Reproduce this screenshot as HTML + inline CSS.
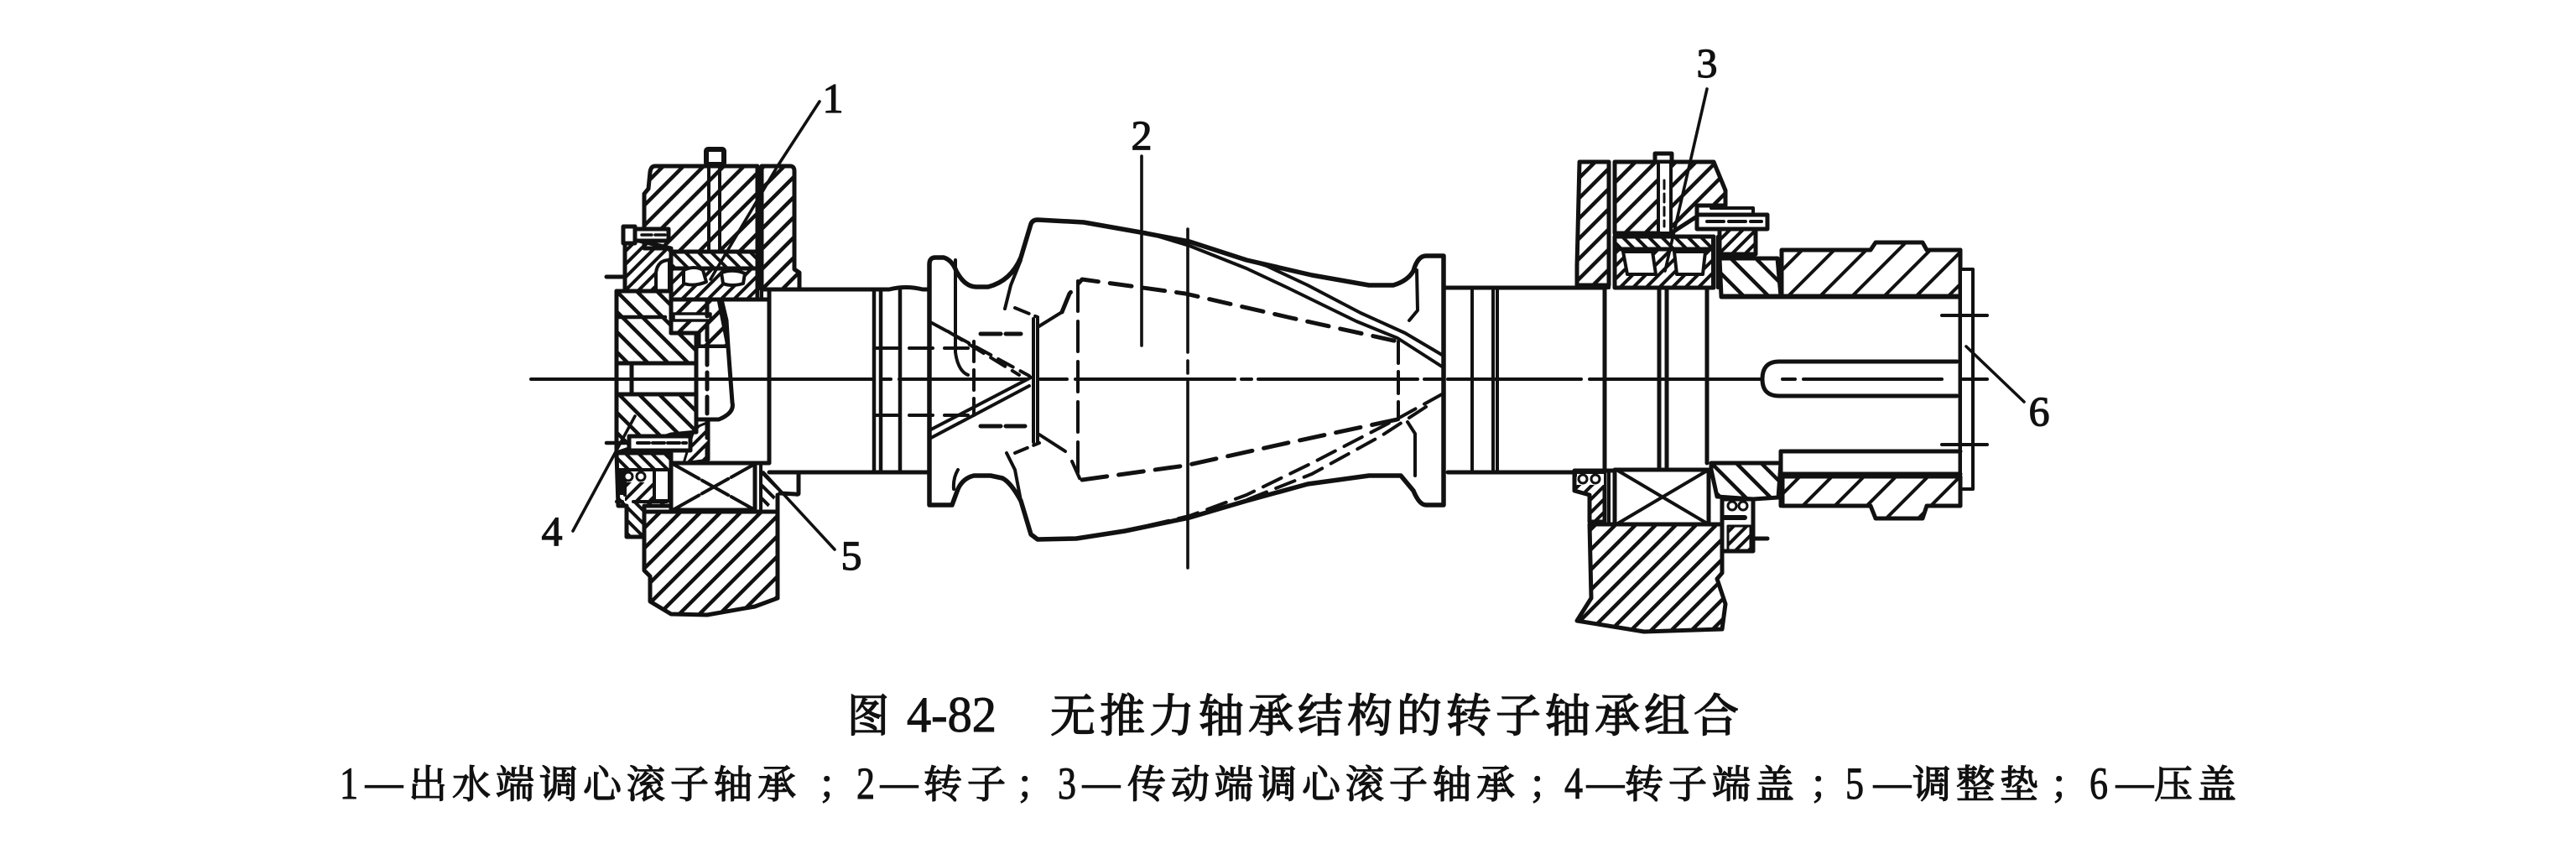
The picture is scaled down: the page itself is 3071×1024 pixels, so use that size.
<!DOCTYPE html>
<html><head><meta charset="utf-8"><style>
html,body{margin:0;padding:0;background:#fff;width:3071px;height:1024px;overflow:hidden}
svg{display:block}
text{fill:#111;stroke:#111}
.l{font-family:"Liberation Serif",serif;font-size:60px;stroke-width:1}
.c{font-family:"Noto Serif CJK SC","Liberation Serif",serif;font-size:54px;letter-spacing:5px;stroke-width:1.5}
.d{font-family:"Noto Serif CJK SC","Liberation Serif",serif;font-size:46px;letter-spacing:6px;stroke-width:1.4}
.g{font-family:"Liberation Serif",serif;font-size:54px;stroke-width:1}
.m{font-family:"Noto Serif CJK SC","Liberation Serif",serif;font-size:46px;stroke-width:1.2}
.n{font-family:"Liberation Serif",serif;font-size:50px;text-anchor:middle;stroke-width:1.2}
</style></head><body>
<svg width="3071" height="1024" viewBox="0 0 3071 1024" xmlns="http://www.w3.org/2000/svg">
<defs>
<pattern id="r" width="17" height="17" patternUnits="userSpaceOnUse" patternTransform="rotate(45)"><rect width="4.5" height="17" fill="#111"/></pattern>
<pattern id="l" width="17" height="17" patternUnits="userSpaceOnUse" patternTransform="rotate(-45)"><rect width="4.5" height="17" fill="#111"/></pattern>
<pattern id="rc" width="27" height="27" patternUnits="userSpaceOnUse" patternTransform="rotate(45)"><rect width="4" height="27" fill="#111"/></pattern>
<pattern id="lc" width="21" height="21" patternUnits="userSpaceOnUse" patternTransform="rotate(-45)"><rect width="4.5" height="21" fill="#111"/></pattern>
<pattern id="r2" width="11" height="11" patternUnits="userSpaceOnUse" patternTransform="rotate(45)"><rect width="4" height="11" fill="#111"/></pattern>
<pattern id="l2" width="11" height="11" patternUnits="userSpaceOnUse" patternTransform="rotate(-45)"><rect width="4" height="11" fill="#111"/></pattern>
</defs>
<rect width="3071" height="1024" fill="#fff"/>

<g stroke="#111" stroke-width="5" stroke-linejoin="round" stroke-linecap="round" fill="none">
<!-- LEFT ASSEMBLY upper -->
<path fill="url(#r)" d="M781,198H903V300H800L797,296H768V231L773,225 775,205Q776,198 781,198Z"/>
<path fill="url(#r)" d="M908,198H942Q947,198 947,204V321L953,325V345H908Z"/>
<path d="M903,198V357M908,198V357" stroke-width="4"/>
<path fill="url(#r2)" d="M745,283L800,296V347H745Z"/>
<path fill="#fff" stroke-width="4" d="M782,347V325Q784,310 798,310V347Z"/>
<path d="M723,330H742" stroke-width="5"/>
<path fill="url(#l2)" d="M800,300H903V320H800Z"/>
<path fill="url(#r2)" d="M800,320H903V357H800Z"/>
<path fill="#fff" stroke-width="4" d="M815,322Q828,316 838,322L842,336Q828,342 815,338ZM860,325Q875,320 888,326L886,338Q872,342 862,338Z"/>
<path fill="url(#r)" d="M800,357H860L866,382 868,413H833V397H800Z"/>
<path fill="#fff" stroke-width="3.5" d="M803,374H847V382H803Z"/>
<rect x="842" y="178" width="21" height="18" fill="#fff" rx="2" stroke-width="6"/>
<path d="M845,198V300M858,198V300" stroke-width="4"/>
<path fill="#fff" stroke-width="5" d="M743,270H757V290H743ZM757,273H797V287H757Z"/>
<path d="M765,280H795" stroke-width="3.5" stroke-dasharray="12 4"/>

<!-- end cover -->
<path fill="url(#l)" d="M735,347H800V397H830V515L800,518 735,540Z"/>
<path fill="#fff" stroke="none" d="M735,433H830V470H735Z"/>
<path d="M735,433H830M735,470H830M753,433V470M735,347V540M830,397V515M800,347V397H830"/>
<path d="M735,378H793" stroke-width="4.5"/>
<!-- curved inner -->
<path fill="#fff" stroke="none" d="M833,413H868L873,480Q876,492 857,500H833Z"/>
<path d="M857,357L868,413 873,480Q876,492 857,500H833"/>
<path d="M833,413H868" stroke-width="4"/>
<path d="M843,357V552" stroke-dasharray="20 9" stroke-width="5"/>
<path fill="url(#r2)" stroke-width="3" d="M828,510L845,503V548L815,552Z"/>
<!-- bolt band -->
<path fill="#fff" stroke-width="5" d="M750,520H823V537H750Z"/>
<path d="M760,528H818" stroke-dasharray="14 4" stroke-width="4"/>
<path d="M723,528H745" stroke-width="4.5"/>
<!-- lower seal -->
<path fill="url(#l2)" d="M735,540H800V603H768V640H747V603H737Z"/>
<path fill="#fff" stroke="none" d="M745,560H797V600H745Z"/>
<path fill="url(#r2)" stroke="none" d="M745,575H780V597H745Z"/>
<path d="M737,560H800M737,560V590M745,560V590" stroke-width="4"/>
<path fill="#111" stroke="none" d="M737,560H745V590H737Z"/>
<circle cx="749" cy="568" r="5" fill="#fff" stroke-width="3"/><circle cx="764" cy="568" r="5" fill="#fff" stroke-width="3"/>
<path fill="#fff" stroke-width="4" d="M780,560H798V597H780Z"/>
<path d="M735,598H742M755,598H795" stroke-width="4"/>
<!-- lower bearing -->
<path fill="#fff" d="M800,552H900V608H800Z"/>
<path d="M802,553L900,608M802,608L900,553" stroke-width="4" stroke-dasharray="36 4"/>
<path d="M900,552V608M907,552V608" stroke-width="4"/>
<path fill="url(#l2)" stroke="none" d="M907,562H920L930,585 915,605 907,606Z"/>
<path d="M917,563H1108M952,563V588Q952,590 948,589L930,588" stroke-width="5"/>
<!-- lower housing -->
<path fill="url(#r)" d="M768,610H927V713L900,723 843,733 800,732 775,717V687L768,680Z"/>
<path d="M927,590V713"/>
<!-- shaft inside bore -->
<path d="M917,345V552H847M853,357H917" />

<!-- SHAFT LEFT -->
<path d="M917,345H1060Q1080,340 1100,345H1108" />
<path d="M1042,345V563M1050,345V563M1073,345V563" stroke-width="4.5"/>
<path d="M1042,415H1157M1042,495H1157" stroke-dasharray="28 14" stroke-width="4"/>

<!-- ROTOR -->
<path stroke-width="5.5" d="M1108,315Q1108,307 1115,307H1125Q1135,310 1140,323 1150,342 1164,342H1178Q1205,335 1217,307L1229,267Q1231,262 1237,262L1292,265 1360,277 1418,288 1486,310 1564,328 1632,340H1661Q1678,335 1685,323 1690,305 1700,305H1721V602H1700Q1692,602 1685,585L1670,567H1632L1559,577 1486,597 1418,617 1341,633 1283,642 1237,643 1229,637 1217,597Q1205,575 1195,570L1181,567H1161Q1148,570 1142,583L1135,602H1108Z"/>
<path d="M1365,277L1418,293 1486,320 1535,343 1617,383 1666,403 1719,437M1418,288L1510,317 1559,340 1622,373 1675,397 1719,423" stroke-width="4"/>
<path d="M1139,310V420Q1142,442 1154,447M1142,560Q1136,570 1137,583M1217,310L1205,340 1198,368M1200,540L1210,560 1217,597" stroke-width="4"/>
<path d="M1232,380V527M1237,380V527" stroke-width="4"/>
<path d="M1210,367L1237,378" stroke-dasharray="18 8" stroke-width="4"/>
<path d="M1237,390L1266,372" stroke-width="4"/>
<path d="M1266,372L1275,350 1290,333 1413,350 1535,378 1666,407" stroke-dasharray="26 14" stroke-width="5"/>
<path d="M1285,335V572" stroke-dasharray="36 12" stroke-width="4"/>
<path d="M1290,572L1413,555 1535,528 1666,500" stroke-dasharray="30 14" stroke-width="5"/>
<path d="M1239,518L1270,538M1278,550L1287,570" stroke-width="4"/>
<path d="M1210,540L1239,528" stroke-dasharray="16 8" stroke-width="4"/>
<path d="M1667,407V500" stroke-dasharray="26 10" stroke-width="4"/>
<path d="M1680,382L1690,370 1689,322M1678,503L1687,517V567" stroke-width="4"/>
<path d="M1719,470L1670,497 1564,552 1486,590 1418,615 1341,633" stroke-dasharray="24 12" stroke-width="4"/>
<path d="M1700,485L1646,520 1564,565 1476,600" stroke-dasharray="24 12" stroke-width="4"/>
<path d="M1108,513L1229,450M1108,523L1227,460" stroke-width="4"/>
<path d="M1111,385L1227,448M1130,395L1215,447" stroke-dasharray="20 10" stroke-width="4"/>
<path d="M1169,398H1217M1169,508H1222" stroke-dasharray="24 6" stroke-width="5"/>
<path d="M1161,407V495" stroke-dasharray="24 10" stroke-width="4"/>

<!-- SHAFT RIGHT -->
<path d="M1721,343H1915M1726,563H1877M1877,561H2040"/>
<path d="M1755,343V563M1780,343V563M1785,343V563" stroke-width="4"/>
<path d="M1913,343V561M1978,343V557M1987,343V557M2035,343V552" stroke-width="5"/>

<!-- RIGHT ASSEMBLY upper -->
<path fill="url(#r)" d="M1883,193H1918V340H1880V317Z"/>
<path fill="url(#r)" d="M1925,193H2043L2057,227V245H2023V258L1992,278H1925Z"/>
<path d="M1918,193V343M1925,193V343" stroke-width="4"/>
<rect x="1973" y="183" width="20" height="10" fill="#fff" stroke-width="5"/>
<path fill="#fff" stroke-width="4" d="M1977,193H1992V278H1977Z"/>
<path d="M1984,215V270" stroke-width="3" stroke-dasharray="10 6"/>
<path fill="url(#l2)" d="M1925,282H2043V297H1925Z"/>
<path fill="url(#r2)" d="M1925,297H2043V343H1925Z"/>
<path fill="#fff" stroke-width="4" d="M1935,300H1970L1974,327H1940ZM1996,300H2033L2030,327H1999Z"/>
<path d="M2042,282V343M2048,282V343" stroke-width="4"/>
<path fill="url(#r2)" d="M2050,273H2093V303H2050Z"/>
<path fill="#fff" stroke-width="5" d="M2023,256H2107V273H2023Z"/>
<path d="M2040,248H2090V256" stroke-width="4"/>
<path d="M2035,264H2100" stroke-dasharray="20 6" stroke-width="4"/>
<path fill="url(#lc)" d="M2050,308H2119L2123,353H2052Z"/>
<path fill="url(#rc)" d="M2124,298H2230L2236,289H2292L2297,298H2337V353H2124Z"/>
<path d="M2052,354H2337M2337,298V603" stroke-width="5"/>
<path fill="#fff" stroke-width="4" d="M2337,321H2352V583H2337Z"/>
<path d="M2315,376H2369M2315,530H2369" stroke-width="4"/>
<path fill="#fff" d="M2333,431H2121Q2101,431 2101,452 2101,472 2121,472H2333"/>
<path d="M2123,538H2337M2123,565H2337"/>
<path fill="url(#rc)" d="M2125,568H2337V603H2297L2292,618H2236L2230,603H2125Z"/>
<!-- right lower -->
<path fill="url(#lc)" d="M2040,552H2123L2120,593 2090,595 2047,592 2040,560Z"/>
<path d="M2123,538V603"/>
<path fill="#fff" d="M1925,560H2037V625H1925Z"/>
<path d="M1927,560L2037,625M1927,625L2037,560" stroke-width="4"/>
<path d="M1918,561V625M1925,561V625" stroke-width="4"/>
<path fill="url(#r2)" d="M1877,563H1913V622H1895V590L1877,585Z"/>
<path fill="#fff" stroke="none" d="M1880,565H1912V578H1880Z"/>
<circle cx="1887" cy="571" r="5" fill="#fff" stroke-width="3"/><circle cx="1902" cy="571" r="5" fill="#fff" stroke-width="3"/>
<path fill="url(#r)" d="M1895,625H2053V683L2047,690 2057,720 2053,750 1960,753 1880,740 1897,713Z"/>
<path fill="#fff" stroke-width="5" d="M2053,595H2090V657H2053Z"/>
<circle cx="2065" cy="603" r="5" fill="#fff" stroke-width="3"/><circle cx="2078" cy="603" r="5" fill="#fff" stroke-width="3"/>
<path d="M2056,617H2080" stroke-width="6"/>
<rect x="2060" y="627" width="27" height="30" fill="url(#r2)" stroke-width="3"/>
<path d="M2090,642H2107" stroke-width="5"/>
</g>

<!-- centre lines and leaders -->
<g stroke="#111" fill="none" stroke-width="3.6" stroke-linecap="round">
<path d="M633,452H1040M1050,452H1062M1072,452H1225M1240,452H1272M1282,452H1472M1480,452H1492M1500,452H1690M1698,452H1718M1726,452H1885M1895,452H2100M2125,452H2140M2150,452H2315M2340,452H2369" stroke-width="4"/>
<path d="M1361,186V412"/>
<path d="M1416,273V420M1416,430V445M1416,455V677"/>
<path d="M977,121L927,198 847,333"/>
<path d="M683,633L757,496"/>
<path d="M995,655L910,563"/>
<path d="M2035,106L1985,323"/>
<path d="M2413,479L2344,413"/>
</g>

<!-- number labels -->
<text class="n" x="993" y="134">1</text>
<text class="n" x="1361" y="178">2</text>
<text class="n" x="2035" y="92">3</text>
<text class="n" x="658" y="650">4</text>
<text class="n" x="1015" y="679">5</text>
<text class="n" x="2431" y="507">6</text>

<!-- caption -->
<text class="c" x="1010" y="872" letter-spacing="0" textLength="50" lengthAdjust="spacingAndGlyphs" style="letter-spacing:0">图</text>
<text class="l" x="1081" y="872" textLength="107" lengthAdjust="spacingAndGlyphs">4-82</text>
<text class="c" x="1252" y="872">无推力轴承结构的转子轴承组合</text>

<text class="g" x="405" y="952" textLength="22" lengthAdjust="spacingAndGlyphs">1</text>
<text class="m" x="433" y="950" textLength="50" lengthAdjust="spacingAndGlyphs">—</text>
<text class="d" x="487" y="951">出水端调心滚子轴承</text>
<text class="m" x="975" y="951">；</text>
<text class="g" x="1021" y="952" textLength="22" lengthAdjust="spacingAndGlyphs">2</text>
<text class="m" x="1047" y="950" textLength="50" lengthAdjust="spacingAndGlyphs">—</text>
<text class="d" x="1101" y="951">转子</text>
<text class="m" x="1211" y="951">；</text>
<text class="g" x="1261" y="952" textLength="22" lengthAdjust="spacingAndGlyphs">3</text>
<text class="m" x="1288" y="950" textLength="50" lengthAdjust="spacingAndGlyphs">—</text>
<text class="d" x="1344" y="951">传动端调心滚子轴承</text>
<text class="m" x="1822" y="951">；</text>
<text class="g" x="1865" y="952" textLength="22" lengthAdjust="spacingAndGlyphs">4</text>
<text class="m" x="1889" y="950" textLength="50" lengthAdjust="spacingAndGlyphs">—</text>
<text class="d" x="1937" y="951">转子端盖</text>
<text class="m" x="2157" y="951">；</text>
<text class="g" x="2200" y="952" textLength="22" lengthAdjust="spacingAndGlyphs">5</text>
<text class="m" x="2231" y="950" textLength="50" lengthAdjust="spacingAndGlyphs">—</text>
<text class="d" x="2280" y="951">调整垫</text>
<text class="m" x="2444" y="951">；</text>
<text class="g" x="2491" y="952" textLength="22" lengthAdjust="spacingAndGlyphs">6</text>
<text class="m" x="2520" y="950" textLength="50" lengthAdjust="spacingAndGlyphs">—</text>
<text class="d" x="2568" y="951">压盖</text>
</svg>
</body></html>
